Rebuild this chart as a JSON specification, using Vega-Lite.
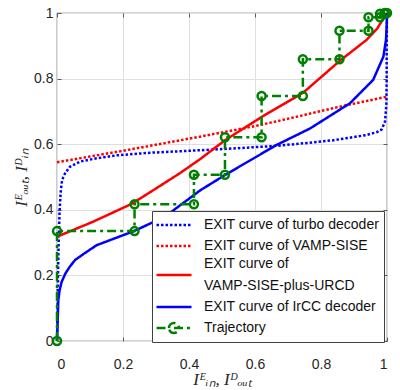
{
  "$schema": "https://vega.github.io/schema/vega-lite/v6.json",
  "width": 330,
  "height": 328,
  "autosize": {"type": "none"},
  "padding": {"left": 57, "top": 13, "right": 13, "bottom": 49},
  "background": "white",
  "config": {
    "view": {"stroke": "#5a5a5a", "strokeWidth": 1.2},
    "font": "Liberation Sans",
    "axis": {
      "labelFont": "Liberation Sans",
      "labelFontSize": 14,
      "labelColor": "#262626",
      "gridColor": "#dfdfdf",
      "gridWidth": 1,
      "domain": false,
      "tickColor": "#5a5a5a",
      "tickSize": -4,
      "titleFont": "Liberation Serif",
      "titleFontStyle": "italic",
      "titleFontWeight": "normal",
      "titleFontSize": 17,
      "titleColor": "#262626"
    }
  },
  "data": {"values": [
    {"s": "EXIT curve of turbo decoder", "i": 0, "x": 0, "y": 0},
    {"s": "EXIT curve of turbo decoder", "i": 1, "x": 0.001, "y": 0.05},
    {"s": "EXIT curve of turbo decoder", "i": 2, "x": 0.002, "y": 0.1},
    {"s": "EXIT curve of turbo decoder", "i": 3, "x": 0.003, "y": 0.2},
    {"s": "EXIT curve of turbo decoder", "i": 4, "x": 0.005, "y": 0.3},
    {"s": "EXIT curve of turbo decoder", "i": 5, "x": 0.008, "y": 0.4},
    {"s": "EXIT curve of turbo decoder", "i": 6, "x": 0.011, "y": 0.45},
    {"s": "EXIT curve of turbo decoder", "i": 7, "x": 0.014, "y": 0.481},
    {"s": "EXIT curve of turbo decoder", "i": 8, "x": 0.019, "y": 0.5},
    {"s": "EXIT curve of turbo decoder", "i": 9, "x": 0.025, "y": 0.512},
    {"s": "EXIT curve of turbo decoder", "i": 10, "x": 0.039, "y": 0.531},
    {"s": "EXIT curve of turbo decoder", "i": 11, "x": 0.07, "y": 0.547},
    {"s": "EXIT curve of turbo decoder", "i": 12, "x": 0.12, "y": 0.557},
    {"s": "EXIT curve of turbo decoder", "i": 13, "x": 0.18, "y": 0.566},
    {"s": "EXIT curve of turbo decoder", "i": 14, "x": 0.282, "y": 0.574},
    {"s": "EXIT curve of turbo decoder", "i": 15, "x": 0.383, "y": 0.579},
    {"s": "EXIT curve of turbo decoder", "i": 16, "x": 0.5, "y": 0.585},
    {"s": "EXIT curve of turbo decoder", "i": 17, "x": 0.666, "y": 0.595},
    {"s": "EXIT curve of turbo decoder", "i": 18, "x": 0.75, "y": 0.603},
    {"s": "EXIT curve of turbo decoder", "i": 19, "x": 0.837, "y": 0.612},
    {"s": "EXIT curve of turbo decoder", "i": 20, "x": 0.938, "y": 0.628},
    {"s": "EXIT curve of turbo decoder", "i": 21, "x": 0.97, "y": 0.637},
    {"s": "EXIT curve of turbo decoder", "i": 22, "x": 0.984, "y": 0.645},
    {"s": "EXIT curve of turbo decoder", "i": 23, "x": 0.994, "y": 0.669},
    {"s": "EXIT curve of turbo decoder", "i": 24, "x": 0.998, "y": 0.72},
    {"s": "EXIT curve of turbo decoder", "i": 25, "x": 0.999, "y": 0.8},
    {"s": "EXIT curve of turbo decoder", "i": 26, "x": 0.999, "y": 0.9},
    {"s": "EXIT curve of turbo decoder", "i": 27, "x": 1, "y": 1},
    {"s": "EXIT curve of VAMP-SISE", "i": 0, "x": 0, "y": 0.545},
    {"s": "EXIT curve of VAMP-SISE", "i": 1, "x": 0.2, "y": 0.58},
    {"s": "EXIT curve of VAMP-SISE", "i": 2, "x": 0.433, "y": 0.623},
    {"s": "EXIT curve of VAMP-SISE", "i": 3, "x": 0.6, "y": 0.655},
    {"s": "EXIT curve of VAMP-SISE", "i": 4, "x": 0.736, "y": 0.686},
    {"s": "EXIT curve of VAMP-SISE", "i": 5, "x": 0.85, "y": 0.713},
    {"s": "EXIT curve of VAMP-SISE", "i": 6, "x": 1, "y": 0.745},
    {"s": "EXIT curve of VAMP-SISE-plus-URCD", "i": 0, "x": 0, "y": 0.318},
    {"s": "EXIT curve of VAMP-SISE-plus-URCD", "i": 1, "x": 0.11, "y": 0.364},
    {"s": "EXIT curve of VAMP-SISE-plus-URCD", "i": 2, "x": 0.226, "y": 0.418},
    {"s": "EXIT curve of VAMP-SISE-plus-URCD", "i": 3, "x": 0.3, "y": 0.465},
    {"s": "EXIT curve of VAMP-SISE-plus-URCD", "i": 4, "x": 0.373, "y": 0.512},
    {"s": "EXIT curve of VAMP-SISE-plus-URCD", "i": 5, "x": 0.433, "y": 0.554},
    {"s": "EXIT curve of VAMP-SISE-plus-URCD", "i": 6, "x": 0.509, "y": 0.612},
    {"s": "EXIT curve of VAMP-SISE-plus-URCD", "i": 7, "x": 0.62, "y": 0.683},
    {"s": "EXIT curve of VAMP-SISE-plus-URCD", "i": 8, "x": 0.746, "y": 0.757},
    {"s": "EXIT curve of VAMP-SISE-plus-URCD", "i": 9, "x": 0.858, "y": 0.855},
    {"s": "EXIT curve of VAMP-SISE-plus-URCD", "i": 10, "x": 0.938, "y": 0.918},
    {"s": "EXIT curve of VAMP-SISE-plus-URCD", "i": 11, "x": 0.97, "y": 0.952},
    {"s": "EXIT curve of VAMP-SISE-plus-URCD", "i": 12, "x": 0.988, "y": 0.982},
    {"s": "EXIT curve of VAMP-SISE-plus-URCD", "i": 13, "x": 1, "y": 1},
    {"s": "EXIT curve of IrCC decoder", "i": 0, "x": 0, "y": 0},
    {"s": "EXIT curve of IrCC decoder", "i": 1, "x": 0.002, "y": 0.06},
    {"s": "EXIT curve of IrCC decoder", "i": 2, "x": 0.004, "y": 0.125},
    {"s": "EXIT curve of IrCC decoder", "i": 3, "x": 0.008, "y": 0.155},
    {"s": "EXIT curve of IrCC decoder", "i": 4, "x": 0.014, "y": 0.18},
    {"s": "EXIT curve of IrCC decoder", "i": 5, "x": 0.025, "y": 0.205},
    {"s": "EXIT curve of IrCC decoder", "i": 6, "x": 0.039, "y": 0.227},
    {"s": "EXIT curve of IrCC decoder", "i": 7, "x": 0.055, "y": 0.247},
    {"s": "EXIT curve of IrCC decoder", "i": 8, "x": 0.08, "y": 0.265},
    {"s": "EXIT curve of IrCC decoder", "i": 9, "x": 0.12, "y": 0.292},
    {"s": "EXIT curve of IrCC decoder", "i": 10, "x": 0.233, "y": 0.335},
    {"s": "EXIT curve of IrCC decoder", "i": 11, "x": 0.327, "y": 0.379},
    {"s": "EXIT curve of IrCC decoder", "i": 12, "x": 0.435, "y": 0.46},
    {"s": "EXIT curve of IrCC decoder", "i": 13, "x": 0.509, "y": 0.506},
    {"s": "EXIT curve of IrCC decoder", "i": 14, "x": 0.666, "y": 0.598},
    {"s": "EXIT curve of IrCC decoder", "i": 15, "x": 0.767, "y": 0.648},
    {"s": "EXIT curve of IrCC decoder", "i": 16, "x": 0.888, "y": 0.725},
    {"s": "EXIT curve of IrCC decoder", "i": 17, "x": 0.958, "y": 0.796},
    {"s": "EXIT curve of IrCC decoder", "i": 18, "x": 0.989, "y": 0.867},
    {"s": "EXIT curve of IrCC decoder", "i": 19, "x": 0.997, "y": 0.918},
    {"s": "EXIT curve of IrCC decoder", "i": 20, "x": 0.999, "y": 0.96},
    {"s": "EXIT curve of IrCC decoder", "i": 21, "x": 1, "y": 1},
    {"s": "Trajectory", "i": 0, "x": 0, "y": 0},
    {"s": "Trajectory", "i": 1, "x": 0, "y": 0.335},
    {"s": "Trajectory", "i": 2, "x": 0.235, "y": 0.335},
    {"s": "Trajectory", "i": 3, "x": 0.235, "y": 0.417},
    {"s": "Trajectory", "i": 4, "x": 0.415, "y": 0.417},
    {"s": "Trajectory", "i": 5, "x": 0.415, "y": 0.507},
    {"s": "Trajectory", "i": 6, "x": 0.509, "y": 0.507},
    {"s": "Trajectory", "i": 7, "x": 0.509, "y": 0.621},
    {"s": "Trajectory", "i": 8, "x": 0.62, "y": 0.621},
    {"s": "Trajectory", "i": 9, "x": 0.62, "y": 0.747},
    {"s": "Trajectory", "i": 10, "x": 0.745, "y": 0.747},
    {"s": "Trajectory", "i": 11, "x": 0.745, "y": 0.859},
    {"s": "Trajectory", "i": 12, "x": 0.856, "y": 0.859},
    {"s": "Trajectory", "i": 13, "x": 0.856, "y": 0.946},
    {"s": "Trajectory", "i": 14, "x": 0.944, "y": 0.946},
    {"s": "Trajectory", "i": 15, "x": 0.944, "y": 0.987},
    {"s": "Trajectory", "i": 16, "x": 0.979, "y": 0.987},
    {"s": "Trajectory", "i": 17, "x": 0.979, "y": 0.998},
    {"s": "Trajectory", "i": 18, "x": 0.993, "y": 0.998},
    {"s": "Trajectory", "i": 19, "x": 0.993, "y": 1},
    {"s": "Trajectory", "i": 20, "x": 1, "y": 1}
  ]},
  "layer": [
    {
      "mark": {"type": "line", "strokeWidth": 2.5, "strokeCap": "butt", "clip": false},
      "encoding": {
        "x": {"field": "x", "type": "quantitative",
              "scale": {"domain": [0, 1], "nice": false, "zero": false},
              "axis": {"orient": "bottom", "values": [0, 0.2, 0.4, 0.6, 0.8, 1], "format": "~g", "labelPadding": 20, "title": "Iᴱᵢₙ, Iᴰₒᵤₜ", "titlePadding": 0}},
        "y": {"field": "y", "type": "quantitative",
              "scale": {"domain": [0, 1], "nice": false, "zero": false},
              "axis": {"orient": "left", "values": [0, 0.2, 0.4, 0.6, 0.8, 1], "format": "~g", "labelPadding": 8, "title": "Iᴱₒᵤₜ, Iᴰᵢₙ", "titlePadding": 3}},
        "order": {"field": "i", "type": "quantitative"},
        "color": {"field": "s", "type": "nominal",
          "scale": {"domain": ["EXIT curve of turbo decoder", "EXIT curve of VAMP-SISE", "EXIT curve of VAMP-SISE-plus-URCD", "EXIT curve of IrCC decoder", "Trajectory"],
                    "range": ["#0000ff", "#ff0000", "#ff0000", "#0000ff", "#008000"]},
          "legend": {
            "title": null,
            "orient": "none",
            "legendX": 95,
            "legendY": 198,
            "padding": 4,
            "fillColor": "white",
            "strokeColor": "#404040",
            "labelFont": "Liberation Sans",
            "labelFontSize": 14,
            "labelColor": "#111111",
            "labelLimit": 300,
            "symbolSize": 306,
            "symbolStrokeWidth": 2.5,
            "symbolOffset": 8,
            "labelOffset": 20,
            "rowPadding": 4,
            "labelExpr": "datum.label == 'EXIT curve of VAMP-SISE-plus-URCD' ? ['EXIT curve of', 'VAMP-SISE-plus-URCD'] : datum.label",
            "encode": {
              "symbols": {"update": {
                "shape": {"signal": "datum.value == 'Trajectory' ? 'M-2,0L-0.57,0M0,0L2,0M-0.57,0A0.57,0.57,0,1,1,0.57,0A0.57,0.57,0,1,1,-0.57,0' : 'M-2,0L2,0'"},
                "strokeDash": {"signal": "(datum.value == 'EXIT curve of turbo decoder' || datum.value == 'EXIT curve of VAMP-SISE') ? [2.5, 2] : [1, 0]"},
                "fill": {"value": "transparent"},
                "strokeWidth": {"value": 2.5}
              }},
              "labels": {"update": {
                "lineHeight": {"value": 22},
                "dy": {"signal": "datum.value == 'EXIT curve of VAMP-SISE-plus-URCD' ? -11 : 0"}
              }}
            }
          }},
        "strokeDash": {"field": "s", "type": "nominal", "legend": null,
          "scale": {"domain": ["EXIT curve of turbo decoder", "EXIT curve of VAMP-SISE", "EXIT curve of VAMP-SISE-plus-URCD", "EXIT curve of IrCC decoder", "Trajectory"],
                    "range": [[2.5, 2], [2.5, 2], [1, 0], [1, 0], [9, 4, 3, 4]]}}
      }
    },
    {
      "transform": [{"filter": "datum.s == 'Trajectory'"}],
      "mark": {"type": "point", "shape": "circle", "filled": false, "size": 64, "strokeWidth": 2.5, "color": "#008000", "opacity": 1, "clip": false},
      "encoding": {
        "x": {"field": "x", "type": "quantitative", "axis": {"orient": "top", "values": [0, 0.2, 0.4, 0.6, 0.8, 1], "labels": false, "grid": false, "title": null}},
        "y": {"field": "y", "type": "quantitative", "axis": {"orient": "right", "values": [0, 0.2, 0.4, 0.6, 0.8, 1], "labels": false, "grid": false, "title": null}}
      }
    }
  ],
  "resolve": {"axis": {"x": "independent", "y": "independent"}}
}
